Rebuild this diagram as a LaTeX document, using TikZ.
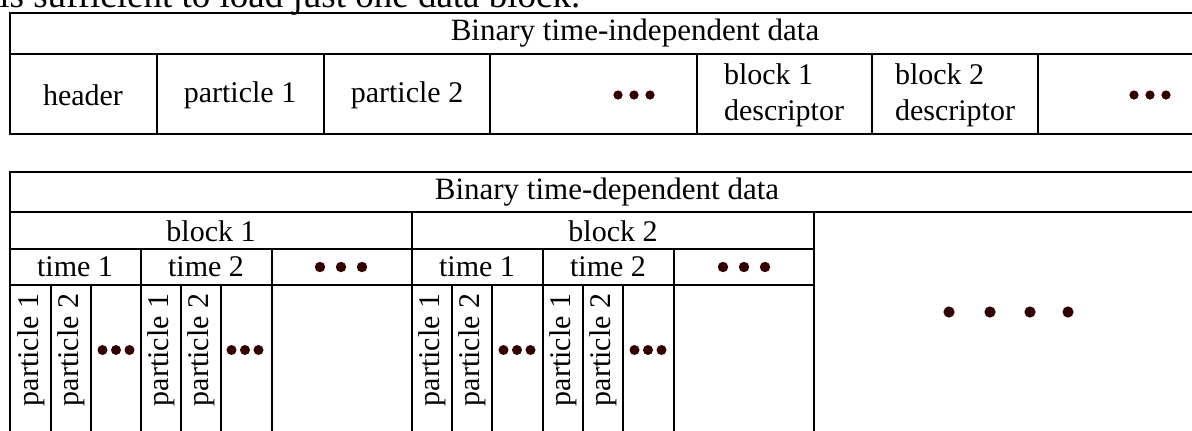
\documentclass[tikz,border=0pt]{standalone}
\usepackage{fontspec}
\setmainfont{Liberation Serif}
\definecolor{dotbrown}{RGB}{51,0,0}
\tikzset{
  txt/.style={font=\fontsize{15}{18}\selectfont, inner sep=0pt},
  rule/.style={line width=0.8pt},
}
% row of three dots: centre x, y, spacing, radius
\newcommand{\dotrow}[4]{\foreach \k in {-1,0,1}{\fill[dotbrown] (#1+#3*\k, #2) circle (#4);}}
\begin{document}
\begin{tikzpicture}[x=0.5pt, y=-0.5pt]
  \useasboundingbox (0, 0) rectangle (1192, 430);

  % cut-off line of running text
  \node[txt, font=\fontsize{18.5}{20}\selectfont, anchor=base west] (runtext) at (-1, 7) {is sufficient to load just one data block.};

  % time-independent table
  \draw[rule] (10, 13) rectangle (1260, 134);
  \draw[rule] (10, 54) to (1260, 54);
  \foreach \x in {157, 324, 490, 697, 872, 1038}
    \draw[rule] (\x, 54) to (\x, 134);

  \node[txt, font=\fontsize{15.5}{18}\selectfont] (indeptitle) at (635, 33) {Binary time-independent data};
  \node[txt] (header) at (83, 95) {header};
  \node[txt] (partone) at (240, 95) {particle 1};
  \node[txt] (parttwo) at (407, 95) {particle 2};
  \node[txt, align=left] (descone) at (784, 95) {block 1\\descriptor};
  \node[txt, align=left] (desctwo) at (955, 95) {block 2\\descriptor};
  \dotrow{634}{95}{16}{2.3pt}
  \dotrow{1150}{95}{16}{2.3pt}

  % time-dependent table
  \draw[rule] (10, 172) rectangle (1204, 445);
  \draw[rule] (10, 212) to (1204, 212);
  \draw[rule] (10, 249) to (814, 249);
  \draw[rule] (10, 285) to (814, 285);
  \foreach \x in {412, 814}
    \draw[rule] (\x, 212) to (\x, 445);
  \foreach \x in {141, 272, 543, 674}
    \draw[rule] (\x, 249) to (\x, 445);
  \foreach \x in {51, 91, 181, 221, 452, 492, 583, 623}
    \draw[rule] (\x, 285) to (\x, 445);

  \node[txt, font=\fontsize{15.5}{18}\selectfont] (deptitle) at (607, 192) {Binary time-dependent data};
  \node[txt] (blockone) at (211, 231) {block 1};
  \node[txt] (blocktwo) at (613, 231) {block 2};
  \node[txt] (timeoneA) at (75, 267) {time 1};
  \node[txt] (timetwoA) at (206, 267) {time 2};
  \node[txt] (timeoneB) at (477, 267) {time 1};
  \node[txt] (timetwoB) at (608, 267) {time 2};
  \dotrow{341}{267}{21}{2.6pt}
  \dotrow{744}{267}{21}{2.6pt}

  \foreach \x [count=\i] in {31, 161, 432, 563}
    \node[txt, rotate=90] (pone\i) at (\x, 350) {particle 1};
  \foreach \x [count=\i] in {71, 201, 472, 603}
    \node[txt, rotate=90] (ptwo\i) at (\x, 350) {particle 2};
  \foreach \x in {116, 245, 517, 648}
    {\dotrow{\x}{350}{13.5}{2.5pt}}

  \foreach \x in {949, 990, 1030, 1068}
    \fill[dotbrown] (\x, 312) circle (2.8pt);
\end{tikzpicture}
\end{document}
